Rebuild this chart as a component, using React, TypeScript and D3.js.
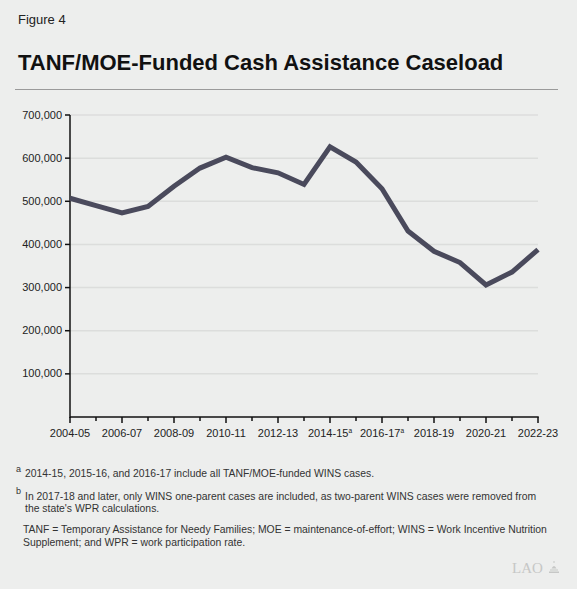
import * as d3 from 'd3';
import { useEffect } from 'react';

// Fiscal years on the x axis, one point per year
const years = [
    '2004-05', '2005-06', '2006-07', '2007-08', '2008-09', '2009-10', '2010-11',
    '2011-12', '2012-13', '2013-14', '2014-15', '2015-16', '2016-17', '2017-18',
    '2018-19', '2019-20', '2020-21', '2021-22', '2022-23',
];

// Caseload
const caseload = [
    507000, 490000, 473000, 488000, 535000, 577000, 602000,
    578000, 566000, 539000, 626000, 591000, 529000, 431000,
    384000, 358000, 306000, 336000, 388000,
];

const yTicks = [100000, 200000, 300000, 400000, 500000, 600000, 700000];

// labels that carry a footnote marker
const marked: Record<string, string> = { '2014-15': 'a', '2016-17': 'a' };

const W = 577;
const H = 589;
const font = '"Liberation Sans", Arial, Helvetica, sans-serif';

function App() {
    useEffect(() => {
        document.body.style.margin = '0';
    }, []);

    const x = d3.scalePoint<string>().domain(years).range([70, 538]);
    const y = d3.scaleLinear().domain([0, 700000]).range([417, 115]);

    const line = d3.line<number>()
        .x((_, i) => x(years[i])!)
        .y((d) => y(d))
        .curve(d3.curveLinear);

    const fmt = d3.format(',');

    return (
        <svg width={W} height={H} style={{ display: 'block', fontFamily: font }}>
            <rect width={W} height={H} fill="#edeeed" />

            <text x={18} y={24} fontSize={13} fill="#222">Figure 4</text>
            <text x={18} y={70} fontSize={22} fontWeight="bold" fill="#111">
                TANF/MOE-Funded Cash Assistance Caseload
            </text>
            <line x1={15} x2={558} y1={89.5} y2={89.5} stroke="#9a9a9a" strokeWidth={1} />

            {/* gridlines */}
            {yTicks.map((t) => (
                <line key={t} x1={70} x2={538} y1={y(t)} y2={y(t)} stroke="#dcdddc" strokeWidth={1.5} />
            ))}

            {/* y axis */}
            <line x1={70} x2={70} y1={y(700000)} y2={y(0) + 1} stroke="#111" strokeWidth={1.5} />
            {yTicks.map((t) => (
                <g key={t}>
                    <line x1={65} x2={70} y1={y(t)} y2={y(t)} stroke="#111" strokeWidth={1.5} />
                    <text x={62} y={y(t) + 3.5} fontSize={11} textAnchor="end" fill="#222">{fmt(t)}</text>
                </g>
            ))}

            {/* x axis */}
            <line x1={70} x2={538.75} y1={y(0)} y2={y(0)} stroke="#111" strokeWidth={1.5} />
            {years.map((yr, i) => (
                <line
                    key={yr}
                    x1={x(yr)}
                    x2={x(yr)}
                    y1={y(0)}
                    y2={y(0) + (i % 2 === 0 ? 6 : 4)}
                    stroke="#111"
                    strokeWidth={1.5}
                />
            ))}
            {years.filter((_, i) => i % 2 === 0).map((yr) => (
                <text key={yr} x={x(yr)} y={436.5} fontSize={11} textAnchor="middle" fill="#222">
                    {yr}
                    {marked[yr] && <tspan fontSize={6.5} dy={-4}>{marked[yr]}</tspan>}
                </text>
            ))}

            {/* series */}
            <path
                d={line(caseload) ?? ''}
                fill="none"
                stroke="#4a4a5c"
                strokeWidth={5}
                strokeLinejoin="miter"
            />

            {/* notes */}
            <g fontSize={10.4} fill="#333">
                <text x={16} y={472} fontSize={9}>a</text>
                <text x={25} y={476.5}>2014-15, 2015-16, and 2016-17 include all TANF/MOE-funded WINS cases.</text>
                <text x={16} y={494} fontSize={9}>b</text>
                <text x={25} y={500}>In 2017-18 and later, only WINS one-parent cases are included, as two-parent WINS cases were removed from</text>
                <text x={25} y={512}>the state&apos;s WPR calculations.</text>
                <text x={23} y={533}>TANF = Temporary Assistance for Needy Families; MOE = maintenance-of-effort; WINS = Work Incentive Nutrition</text>
                <text x={23} y={546}>Supplement; and WPR = work participation rate.</text>
            </g>

            {/* LAO mark */}
            <g fill="#c6c7c6">
                <text x={512} y={573} fontSize={15} fontFamily='"Liberation Serif", "DejaVu Serif", serif'>LAO</text>
                <path d="M549,573 h10 v-1.5 h-10 z M550,570.5 h8 v-1 h-8 z M551.5,568.5 q2.5,-5 5,0 z M553.5,563 h1 v-2 h-1 z" />
            </g>
        </svg>
    );
}

export default App;
